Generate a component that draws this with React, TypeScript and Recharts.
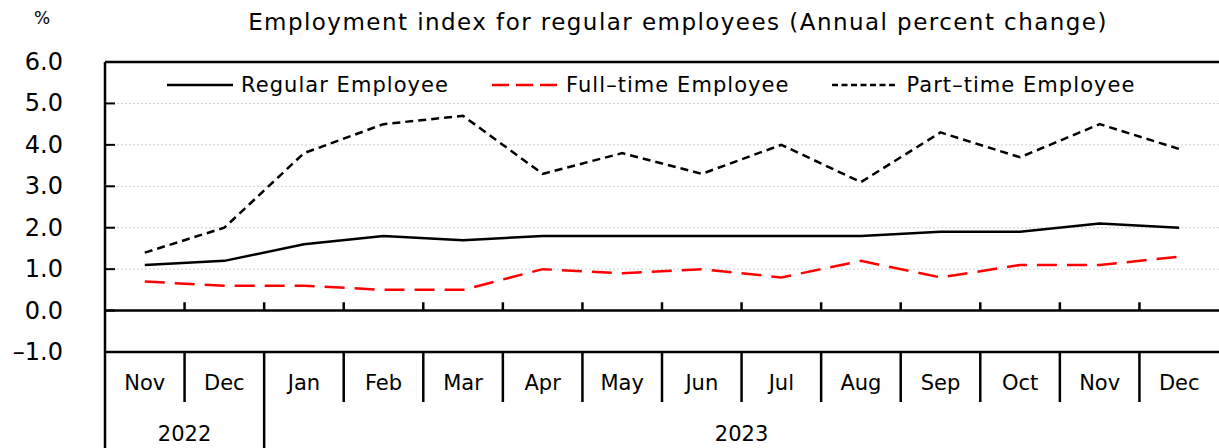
import React from 'react';
import { LineChart, Line, XAxis, YAxis, CartesianGrid, ReferenceLine, Legend } from 'recharts';

const months = ['Nov', 'Dec', 'Jan', 'Feb', 'Mar', 'Apr', 'May', 'Jun', 'Jul', 'Aug', 'Sep', 'Oct', 'Nov', 'Dec'];
const years = ['2022', '2023'];
const yearSpans = [2, 12];
const regular = [1.1, 1.2, 1.6, 1.8, 1.7, 1.8, 1.8, 1.8, 1.8, 1.8, 1.9, 1.9, 2.1, 2.0];
const fullTime = [0.7, 0.6, 0.6, 0.5, 0.5, 1.0, 0.9, 1.0, 0.8, 1.2, 0.8, 1.1, 1.1, 1.3];
const partTime = [1.4, 2.0, 3.8, 4.5, 4.7, 3.3, 3.8, 3.3, 4.0, 3.1, 4.3, 3.7, 4.5, 3.9];
const yTicks = [-1, 0, 1, 2, 3, 4, 5, 6];
const seriesNames = ['Regular Employee', 'Full\u2013time Employee', 'Part\u2013time Employee'];
const legendDash: Record<string, string | undefined> = {
  'Regular Employee': undefined,
  'Full\u2013time Employee': '17 7',
  'Part\u2013time Employee': '6 3.5',
};

const FONT = '"DejaVu Sans", sans-serif';

const data = months.map((m, i) => ({
  pos: i + 0.5,
  month: m,
  regular: regular[i],
  fullTime: fullTime[i],
  partTime: partTime[i],
}));

const yearStarts: number[] = [];
{
  let acc = 0;
  yearSpans.forEach((s) => {
    yearStarts.push(acc);
    acc += s;
  });
}
const yearCenters = yearStarts.map((s, k) => s + yearSpans[k] / 2);
const boundaries = months.map((_, i) => i);
const monthCenters = months.map((_, i) => i + 0.5);
const xTicks = Array.from(new Set([...boundaries, ...monthCenters, ...yearCenters])).sort((a, b) => a - b);

const near = (a: number, b: number) => Math.abs(a - b) < 1e-6;

const fmtY = (v: number) => (v < 0 ? '\u2013' + Math.abs(v).toFixed(1) : v.toFixed(1));

const XTick = (props: any) => {
  const { x, y, payload } = props;
  const v = payload.value as number;
  const parts: React.ReactNode[] = [];
  if (near(v, Math.round(v)) && v < months.length) {
    const isYear = yearStarts.some((s) => near(s, v));
    parts.push(
      <line key="b" x1={x} x2={x} y1={y} y2={isYear ? y + 100 : y + 50} stroke="#000" strokeWidth={2.5} />
    );
  }
  if (near(v - 0.5, Math.round(v - 0.5))) {
    const idx = Math.round(v - 0.5);
    parts.push(
      <text key="m" x={x} y={y + 31} textAnchor="middle" dominantBaseline="central" fontSize={21} fontFamily={FONT} fill="#000">
        {months[idx]}
      </text>
    );
  }
  const yi = yearCenters.findIndex((c) => near(c, v));
  if (yi >= 0) {
    parts.push(
      <text key="y" x={x} y={y + 82} textAnchor="middle" dominantBaseline="central" fontSize={21} fontFamily={FONT} fill="#000">
        {years[yi]}
      </text>
    );
  }
  return <g>{parts}</g>;
};

const YTick = (props: any) => {
  const { x, y, payload } = props;
  return (
    <g>
      <line x1={x} x2={x + 10} y1={y} y2={y} stroke="#000" strokeWidth={2} />
      <text x={x - 42} y={y} textAnchor="end" dominantBaseline="central" fontSize={24} fontFamily={FONT} fill="#000">
        {fmtY(payload.value as number)}
      </text>
    </g>
  );
};

const LegendContent = (props: any) => {
  const payload = [...(props.payload || [])].sort(
    (a: any, b: any) => seriesNames.indexOf(a.value) - seriesNames.indexOf(b.value)
  );
  return (
    <div style={{ display: 'flex', flexDirection: 'row', alignItems: 'center', paddingLeft: 167, gap: 43 }}>
      {payload.map((entry: any, i: number) => (
        <div key={i} style={{ display: 'flex', alignItems: 'center' }}>
          <svg width={66} height={6} style={{ marginRight: 8 }}>
            <line
              x1={0}
              x2={66}
              y1={3}
              y2={3}
              stroke={entry.color}
              strokeWidth={2.5}
              strokeDasharray={legendDash[entry.value]}
            />
          </svg>
          <span style={{ fontFamily: FONT, fontSize: 21, letterSpacing: 1.05, color: '#000' }}>{entry.value}</span>
        </div>
      ))}
    </div>
  );
};

export default function App() {
  return (
    <div style={{ position: 'absolute', left: 0, top: 0, width: 1219, height: 448, background: '#fff' }}>
      <div
        style={{
          position: 'absolute',
          left: 178,
          width: 1000,
          top: 9,
          textAlign: 'center',
          fontFamily: FONT,
          fontSize: 23,
          letterSpacing: 1.45,
          color: '#000',
          whiteSpace: 'nowrap',
        }}
      >
        Employment index for regular employees (Annual percent change)
      </div>
      <div style={{ position: 'absolute', left: 34, top: 8, fontFamily: FONT, fontSize: 17, color: '#000' }}>%</div>
      <LineChart width={1219} height={448} data={data} margin={{ top: 62, right: 0, bottom: 0, left: 0 }}>
        <CartesianGrid horizontal vertical={false} stroke="#cfcfcf" strokeDasharray="2 2" />
        <XAxis
          xAxisId="x"
          dataKey="pos"
          type="number"
          domain={[0, months.length]}
          ticks={xTicks}
          interval={0}
          tick={<XTick />}
          tickLine={false}
          tickSize={0}
          tickMargin={0}
          height={96}
          axisLine={{ stroke: '#000', strokeWidth: 2.5 }}
          allowDecimals
        />
        <YAxis
          type="number"
          domain={[-1, 6]}
          ticks={yTicks}
          interval={0}
          width={105}
          tick={<YTick />}
          tickLine={false}
          tickSize={0}
          tickMargin={0}
          axisLine={{ stroke: '#000', strokeWidth: 2.5 }}
        />
        <ReferenceLine xAxisId="x" y={6} stroke="#000" strokeWidth={2.5} />
        <ReferenceLine xAxisId="x" y={0} stroke="#000" strokeWidth={2.5} />
        {boundaries.slice(1).map((b) => (
          <ReferenceLine
            key={b}
            xAxisId="x"
            segment={[{ x: b, y: 0 }, { x: b, y: 0.2 }]}
            stroke="#000"
            strokeWidth={2.5}
          />
        ))}
        <Legend
          layout="vertical"
          verticalAlign="middle"
          align="center"
          content={<LegendContent />}
          wrapperStyle={{ top: 73, left: 0, width: 1219, height: 30 }}
        />
        <Line
          xAxisId="x"
          dataKey="regular"
          name={seriesNames[0]}
          stroke="#000"
          strokeWidth={2.5}
          dot={false}
          activeDot={false}
          isAnimationActive={false}
        />
        <Line
          xAxisId="x"
          dataKey="fullTime"
          name={seriesNames[1]}
          stroke="#ff0000"
          strokeWidth={2.5}
          strokeDasharray="20 10"
          dot={false}
          activeDot={false}
          isAnimationActive={false}
        />
        <Line
          xAxisId="x"
          dataKey="partTime"
          name={seriesNames[2]}
          stroke="#000"
          strokeWidth={2.5}
          strokeDasharray="8 5"
          dot={false}
          activeDot={false}
          isAnimationActive={false}
        />
      </LineChart>
    </div>
  );
}
